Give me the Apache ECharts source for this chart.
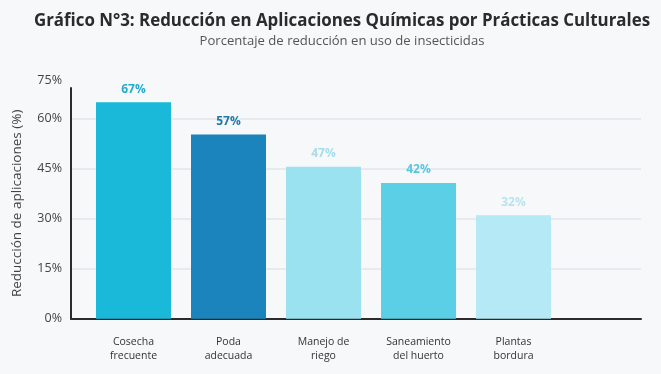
<!DOCTYPE html>
<html><head><meta charset="utf-8">
<script src="https://cdn.jsdelivr.net/npm/echarts@6/dist/echarts.min.js"></script>
<style>html,body{margin:0;padding:0;background:#f7f8fa;}#c{width:661px;height:374px;}</style>
</head><body><div id="c"></div>
<script>
const categories = ['Cosecha\nfrecuente', 'Poda\nadecuada', 'Manejo de\nriego', 'Saneamiento\ndel huerto', 'Plantas\nbordura', ''];
const values = [67, 57, 47, 42, 32];
const barColors = ['#1ab9da', '#1b84bd', '#9be2f1', '#5bcfe6', '#b5e9f5'];
const labelColors = ['#23abd0', '#1f78a8', '#a6dcec', '#59c6e2', '#b8e4f1'];
const yTickLabels = ['0%', '15%', '30%', '45%', '60%', '75%'];

const FONT = '"Open Sans", "Noto Sans", sans-serif';
const chart = echarts.init(document.getElementById('c'));
chart.setOption({
  backgroundColor: '#f7f8fa',
  animation: false,
  textStyle: { fontFamily: FONT },
  title: {
    text: 'Gráfico N°3: Reducción en Aplicaciones Químicas por Prácticas Culturales',
    subtext: 'Porcentaje de reducción en uso de insecticidas',
    left: 337, textAlign: 'center', top: 8, itemGap: 5,
    textStyle: { fontFamily: FONT, fontSize: 16.9, fontWeight: 'bold', color: '#2b2b2b' },
    subtextStyle: { fontFamily: FONT, fontSize: 13.1, color: '#555' }
  },
  grid: [
    { left: 71, right: 20, top: 88, bottom: 55.3 },
    { left: 86, right: 5, top: 88, bottom: 55.3 }
  ],
  xAxis: [
    { gridIndex: 0, type: 'value', min: 0, max: 1,
      axisLine: { show: true, onZero: false, lineStyle: { color: '#2b2b2b', width: 2 } },
      axisTick: { show: false }, axisLabel: { show: false }, splitLine: { show: false } },
    { gridIndex: 1, type: 'category', data: categories,
      axisLine: { show: false }, axisTick: { show: false },
      axisLabel: { margin: 16, fontSize: 10.5, color: '#333', lineHeight: 14, fontFamily: FONT, interval: 0 } }
  ],
  yAxis: [
    { gridIndex: 0, type: 'value', min: 0, max: 69.2, interval: 15,
      name: 'Reducción de aplicaciones (%)', nameLocation: 'middle', nameGap: 47,
      nameTextStyle: { fontSize: 13.5, color: '#444', fontFamily: FONT },
      axisLine: { show: true, lineStyle: { color: '#2b2b2b', width: 2 } },
      axisTick: { show: false },
      axisLabel: { margin: 9, fontSize: 12.5, color: '#444', fontFamily: FONT,
        formatter: (v, i) => i === yTickLabels.length - 1 ? '{t|' + yTickLabels[i] + '}' : yTickLabels[i],
        rich: { t: { fontSize: 12.5, color: '#444', fontFamily: FONT, padding: [0, 0, 16, 0] } } },
      splitLine: { show: true, showMinLine: false, showMaxLine: false, lineStyle: { color: '#e8eaed', width: 2 } } },
    { gridIndex: 1, type: 'value', min: 0, max: 71.4, show: false, splitLine: { show: false } }
  ],
  series: [{
    type: 'bar', xAxisIndex: 1, yAxisIndex: 1, barWidth: 75,
    data: values.map((v, i) => ({
      value: v,
      itemStyle: { color: barColors[i] },
      label: { color: labelColors[i] }
    })),
    label: { show: true, position: 'top', distance: 7, fontSize: 12, fontWeight: 'bold', fontFamily: FONT,
      formatter: p => p.value + '%' }
  }]
});
</script></body></html>
